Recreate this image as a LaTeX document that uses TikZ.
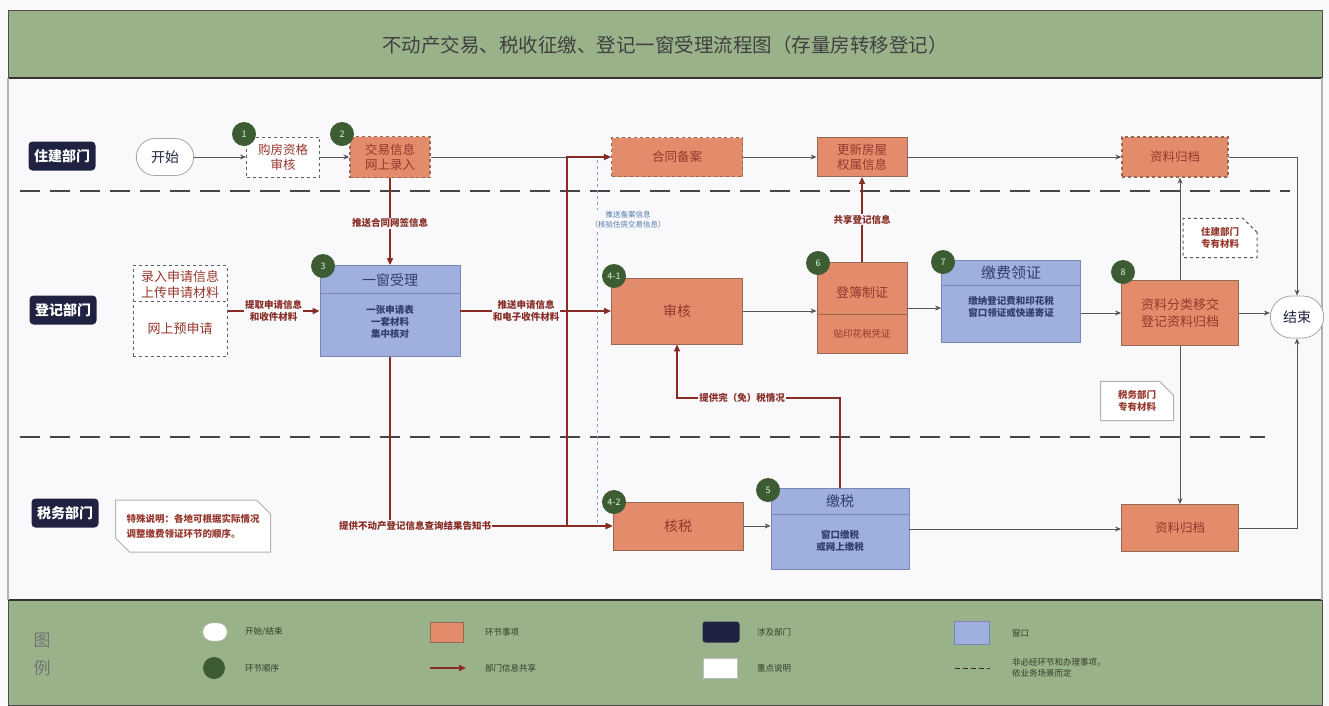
\documentclass[tikz,border=0pt]{standalone}
\usepackage{fontspec}
\setmainfont{Noto Sans CJK SC}
\usetikzlibrary{shapes.misc,arrows.meta,calc}
\definecolor{bandgreen}{RGB}{153,178,138}
\definecolor{orangefill}{RGB}{226,140,108}
\definecolor{orangeline}{RGB}{150,105,85}
\definecolor{bluefill}{RGB}{160,176,222}
\definecolor{blueline}{RGB}{120,135,180}
\definecolor{navy}{RGB}{32,34,66}
\definecolor{stepgreen}{RGB}{62,92,52}
\definecolor{darkred}{RGB}{135,45,38}
\definecolor{txtred}{RGB}{150,55,45}
\definecolor{bluetxt}{RGB}{50,60,110}
\definecolor{linegray}{RGB}{85,85,90}
\definecolor{bgc}{RGB}{249,249,251}
\definecolor{notetxt}{RGB}{80,120,170}
\definecolor{legtxt}{RGB}{50,60,40}
\newcommand\fsz[2]{\fontsize{#1}{#2}\selectfont}
\begin{document}
\begin{tikzpicture}[x=1pt,y=-1pt,
  lanelabel/.style={fill=navy, rounded corners=4pt, text=white, font=\fsz{14}{16}\bfseries, minimum width=67pt, minimum height=29pt, inner sep=0pt},
  startend/.style={rounded rectangle, draw=gray!70, line width=0.8pt, fill=white, minimum width=64pt, minimum height=37pt, font=\fsz{14}{16}, text=navy},
  orangebox/.style={rectangle, draw=orangeline, fill=orangefill, line width=0.8pt, text=txtred, font=\fsz{12.5}{15}, align=center, inner sep=1pt},
  orangedash/.style={orangebox, dashed, line width=1.3pt},
  whitedash/.style={rectangle, draw=gray!75!black, dashed, line width=1pt, fill=white, text=txtred, font=\fsz{12.5}{15}, align=center, inner sep=1pt},
  bluebox/.style={rectangle, draw=blueline, fill=bluefill, line width=0.8pt, inner sep=0pt},
  boxhead/.style={text=bluetxt, font=\fsz{14}{16}, align=center, inner sep=0pt},
  boxbody/.style={text=bluetxt, font=\fsz{9.5}{12}\bfseries, align=center, inner sep=0pt},
  boxtext/.style={text=txtred, font=\fsz{13}{16}, align=center, inner sep=0pt},
  stepnum/.style={circle, fill=stepgreen, text=white!80!green, font=\fsz{9}{10}, minimum size=24pt, inner sep=0pt},
  flow/.style={draw=linegray, line width=0.9pt, -{Stealth[length=6pt,width=5pt]}},
  share/.style={draw=darkred, line width=1.6pt, -{Triangle[length=7pt,width=6pt]}},
  shareline/.style={draw=darkred, line width=1.6pt},
  sharelabel/.style={fill=bgc, text=darkred, font=\fsz{9.5}{11.5}\bfseries, align=center, inner sep=1pt},
  lanesep/.style={draw=gray!55!black, line width=2.5pt, dash pattern=on 20pt off 10pt},
  note/.style={chamfered rectangle, chamfered rectangle xsep=7pt, chamfered rectangle ysep=7pt, fill=white, text=txtred, font=\fsz{9.5}{12}\bfseries, align=center, inner sep=2pt},
  legtext/.style={text=legtxt, font=\fsz{8.5}{11}, anchor=west, align=left, inner sep=0pt}
]
\useasboundingbox (0,0) rectangle (1329,705);
% background and frame
\fill[bgc] (0,0) rectangle (1329,705);
\filldraw[fill=bandgreen, draw=gray!60!black, line width=1pt] (8,10) rectangle (1322,78);
\draw[gray!40!black, line width=2pt] (8,78) -- (1322,78);
\filldraw[fill=bandgreen, draw=gray!60!black, line width=1pt] (8,600) rectangle (1322,705);
\draw[gray!40!black, line width=2pt] (8,600) -- (1322,600);
\draw[gray!60, line width=1.2pt] (8,78) -- (8,600);
\draw[gray!60, line width=1.2pt] (1322,78) -- (1322,600);
\node[text=black!75, font=\fsz{19.5}{22}] (title) at (665,45) {不动产交易、税收征缴、登记一窗受理流程图（存量房转移登记）};
% lane separators
\draw[lanesep] (20,191) -- (1290,191);
\draw[lanesep] (20,437) -- (1265,437);
% lane labels
\node[lanelabel] (lz) at (62,156) {住建部门};
\node[lanelabel] (ld) at (63,310) {登记部门};
\node[lanelabel] (ls) at (65,513) {税务部门};
% top lane
\node[startend] (start) at (165,157) {开始};
\node[whitedash, minimum width=73pt, minimum height=40pt] (n1) at (283,157) {购房资格\\审核};
\node[orangedash, minimum width=80pt, minimum height=41pt] (n2) at (390,157) {交易信息\\网上录入};
\node[orangedash, minimum width=131pt, minimum height=39pt] (htba) at (677,157) {合同备案};
\node[orangebox, minimum width=90pt, minimum height=39pt] (gx) at (862,157) {更新房屋\\权属信息};
\node[orangedash, minimum width=106pt, minimum height=40pt] (zg1) at (1175,157) {资料归档};
\node[startend, minimum width=60pt, minimum height=42pt] (end) at (1297,317) {结束};
% registration lane
\node[whitedash, minimum width=94pt, minimum height=91pt] (pre) at (180,311) {};
\draw[dashed, gray!75!black, line width=1pt] (pre.west |- 0,301) -- (pre.east |- 0,301);
\node[boxtext] (pre1) at (180,284) {录入申请信息\\上传申请材料};
\node[boxtext] (pre2) at (180,329) {网上预申请};
\node[bluebox, minimum width=140pt, minimum height=91pt] (yc) at (390,311) {};
\draw[blueline, line width=0.8pt] (yc.west |- 0,293) -- (yc.east |- 0,293);
\node[boxhead] (yct) at (390,280) {一窗受理};
\node[boxbody] (ycb) at (390,322) {一张申请表\\一套材料\\集中核对};
\node[orangebox, minimum width=131pt, minimum height=66pt, font=\fsz{14}{16}] (sh) at (677,311) {审核};
\node[orangebox, minimum width=90pt, minimum height=91pt] (db) at (862,308) {};
\draw[orangeline, line width=0.8pt] (db.west |- 0,314) -- (db.east |- 0,314);
\node[boxtext, font=\fsz{13}{15}] (dbt) at (862,293) {登簿制证};
\node[boxtext, font=\fsz{9.5}{11}] (dbb) at (862,334) {贴印花税凭证};
\node[bluebox, minimum width=139pt, minimum height=82pt] (jf) at (1011,301) {};
\draw[blueline, line width=0.8pt] (jf.west |- 0,285) -- (jf.east |- 0,285);
\node[boxhead, font=\fsz{15}{17}] (jft) at (1011,273) {缴费领证};
\node[boxbody] (jfb) at (1011,307) {缴纳登记费和印花税\\窗口领证或快递寄证};
\node[orangebox, minimum width=117pt, minimum height=65pt, font=\fsz{13}{17}] (zl) at (1180,313) {资料分类移交\\登记资料归档};
% tax lane
\node[orangebox, minimum width=130pt, minimum height=48pt, font=\fsz{14}{16}] (hs) at (678,526) {核税};
\node[bluebox, minimum width=138pt, minimum height=81pt] (js) at (840,529) {};
\draw[blueline, line width=0.8pt] (js.west |- 0,514) -- (js.east |- 0,514);
\node[boxhead] (jst) at (840,501) {缴税};
\node[boxbody] (jsb) at (840,541) {窗口缴税\\或网上缴税};
\node[orangebox, minimum width=117pt, minimum height=47pt] (zg2) at (1180,528) {资料归档};
% notes
\node[note, draw=gray!70!black, dashed, line width=1pt, chamfered rectangle corners=north east, minimum width=74pt, minimum height=30pt] (zjnote) at (1220,238) {住建部门\\专有材料};
\node[note, draw=gray!60, line width=1pt, chamfered rectangle corners=north east, minimum width=73pt, minimum height=29pt] (swnote) at (1137,401) {税务部门\\专有材料};
\node[note, draw=gray!60, line width=1pt, chamfered rectangle corners={north east,south west}, minimum width=155pt, minimum height=52pt, align=left, font=\fsz{9.5}{15}\bfseries] (tsnote) at (193,526) {特殊说明：各地可根据实际情况\\调整缴费领证环节的顺序。};
% step numbers
\node[stepnum] (c1) at (244,134) {1};
\node[stepnum] (c2) at (342,134) {2};
\node[stepnum] (c3) at (323,266) {3};
\node[stepnum] (c41) at (614,276) {4-1};
\node[stepnum] (c42) at (614,502) {4-2};
\node[stepnum] (c5) at (768,490) {5};
\node[stepnum] (c6) at (818,263) {6};
\node[stepnum] (c7) at (943,262) {7};
\node[stepnum] (c8) at (1123,272) {8};
% blue dotted info line
\coordinate (bl1) at (597,160);
\coordinate (bl2) at (597,523);
\draw[notetxt!70, dashed, line width=0.7pt] (bl1) -- (bl2);
\node[fill=bgc, text=notetxt, font=\fsz{7.5}{10}, align=center, inner sep=1pt] (bllabel) at (628,220) {推送备案信息\\（核验住房交易信息）};
% gray flow connectors
\draw[flow] (start.east) -- (n1.west);
\draw[flow] (n1.east) -- (n2.west);
\draw[flow] (n2.east) -- (htba.west);
\draw[flow] (htba.east) -- (gx.west);
\draw[flow] (gx.east) -- (zg1.west);
\draw[flow] (zg1.east) -| (end.north);
\draw[flow] (sh.east) -- (sh.east -| db.west);
\draw[flow] (db.east) -- (db.east -| jf.west);
\draw[flow] (zl.west -| jf.east) -- (zl.west);
\draw[flow] (zl.east) -- (zl.east -| end.west);
\draw[flow] (zl.north) -- (zl.north |- zg1.south);
\draw[flow] (zl.south) -- (zg2.north);
\draw[flow] (hs.east) -- (hs.east -| js.west);
\draw[flow] (js.east) -- (js.east -| zg2.west);
\draw[flow] (zg2.east) -| (end.south);
% red information-sharing connectors
\coordinate (J) at (567,311);
\draw[share] (J) |- (htba.west);
\draw[share] (J) |- (hs.west);
\draw[share] (yc.south) |- (hs.west);
\draw[share] (yc.east) -- (sh.west);
\draw[share] (n2.south) -- (yc.north) node[sharelabel, pos=0.52] {推送合同网签信息};
\draw[share] (pre.east) -- (yc.west) node[sharelabel, midway] {提取申请信息\\和收件材料};
\node[sharelabel] (lbl2) at (526,311) {推送申请信息\\和电子收件材料};
\node[sharelabel] (lbl3) at (415,526) {提供不动产登记信息查询结果告知书};
\draw[share] (db.north) -- (gx.south) node[sharelabel, midway] {共享登记信息};
\coordinate (k) at (840,398);
\draw[share] (js.north) -- (k) -| (sh.south) node[sharelabel, pos=0.3] {提供完（免）税情况};
% legend
\node[text=black!55, font=\fsz{17}{20}] (tu) at (42,640) {图};
\node[text=black!55, font=\fsz{17}{20}] (li) at (42,668) {例};
\node[rounded rectangle, fill=white, draw=gray!60, minimum width=31pt, minimum height=18pt] (lg1) at (215,632) {};
\node[legtext] (lt1) at (245,632) {开始/结束};
\node[circle, fill=stepgreen, minimum size=22pt, inner sep=0pt] (lg2) at (214,668) {};
\node[legtext] (lt2) at (245,668) {环节顺序};
\node[rectangle, fill=orangefill, draw=orangeline, minimum width=33pt, minimum height=20pt] (lg3) at (447,632) {};
\node[legtext] (lt3) at (485,632) {环节事项};
\coordinate (la1) at (430,668);
\coordinate (la2) at (466,668);
\draw[share] (la1) -- (la2);
\node[legtext] (lt4) at (485,668) {部门信息共享};
\node[rectangle, rounded corners=3pt, fill=navy, minimum width=37pt, minimum height=21pt] (lg5) at (721,632) {};
\node[legtext] (lt5) at (757,632) {涉及部门};
\node[rectangle, fill=white, draw=gray!50, minimum width=34pt, minimum height=20pt] (lg6) at (720,668) {};
\node[legtext] (lt6) at (757,668) {重点说明};
\node[rectangle, fill=bluefill, draw=blueline, minimum width=35pt, minimum height=23pt] (lg7) at (972,633) {};
\node[legtext] (lt7) at (1012,633) {窗口};
\coordinate (ld1) at (955,668);
\coordinate (ld2) at (990,668);
\draw[gray!40!black, line width=1pt, dash pattern=on 5pt off 3pt] (ld1) -- (ld2);
\node[legtext] (lt8) at (1012,668) {非必经环节和办理事项，\\依业务场景而定};
\end{tikzpicture}
\end{document}
